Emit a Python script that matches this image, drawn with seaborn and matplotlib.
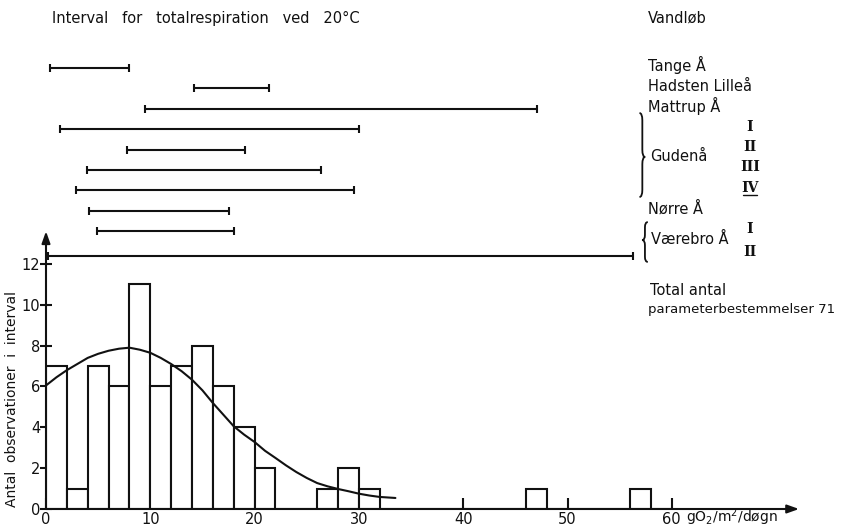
import numpy as np
import pandas as pd
import matplotlib
matplotlib.use("Agg")
import matplotlib.pyplot as plt
from matplotlib.path import Path
from matplotlib.patches import PathPatch
import seaborn as sns

# Histogram of total respiration (bin width 2 g O2/m2/day), left bin edges and counts
bin_left = [0, 2, 4, 6, 8, 10, 12, 14, 16, 18, 20, 26, 28, 30, 46, 56]
bin_count = [7, 1, 7, 6, 11, 6, 7, 8, 6, 4, 2, 1, 2, 1, 1, 1]
bin_width = 2

# Fitted distribution curve
curve_x = [0, 1, 2, 3, 4, 5, 6, 7, 8, 9, 10, 11, 12, 13, 14, 15, 16, 17, 18,
           19, 20, 21, 22, 23, 24, 25, 26, 27, 28, 29, 30, 31, 32, 33.5]
curve_y = [6.05, 6.45, 6.8, 7.1, 7.4, 7.6, 7.75, 7.85, 7.9, 7.8, 7.65, 7.4,
           7.1, 6.75, 6.33, 5.81, 5.19, 4.62, 4.05, 3.64, 3.28, 2.85, 2.5,
           2.14, 1.81, 1.52, 1.27, 1.11, 0.98, 0.87, 0.75, 0.66, 0.59, 0.54]

# Ranges of total respiration at 20 °C per stream / station
interval_low = [0.4, 14.2, 9.5, 1.3, 7.8, 3.9, 2.9, 4.1, 4.9, 0.2]
interval_high = [8.0, 21.4, 47.1, 30.0, 19.1, 26.4, 29.5, 17.5, 18.0, 56.3]

x_ticks = [0, 10, 20, 30, 40, 50, 60]
y_ticks = [0, 2, 4, 6, 8, 10, 12]

sns.set_style("white")
plt.rcParams["font.family"] = ["DejaVu Sans"]

W, H = 842, 527
fig = plt.figure(figsize=(W / 100, H / 100), dpi=100)
px_x, px_y = 10.43, 20.42  # pixels per data unit
ax = fig.add_axes([46 / W, 18 / H, (W - 46) / W, 509 / H])

ink = "#111111"
lw = 1.5

hist_df = pd.DataFrame({"x": np.array(bin_left, dtype=float) + bin_width / 2,
                        "n": np.array(bin_count, dtype=float)})
sns.histplot(data=hist_df, x="x", weights="n",
             binwidth=bin_width, binrange=(0, 60),
             color="white", edgecolor=ink, linewidth=lw, alpha=1,
             ax=ax, zorder=2)

sns.lineplot(x=curve_x, y=curve_y, color=ink, linewidth=lw, ax=ax,
             zorder=3, sort=False)

ax.set_xlim(0, (W - 46) / px_x)
ax.set_ylim(0, 509 / px_y)

# interval bars above the histogram
n_rows = len(interval_low)
row_y = [21.6 - i * 1.0 for i in range(n_rows - 1)] + [12.4]
for lo, hi, y in zip(interval_low, interval_high, row_y):
    ax.plot([lo, hi], [y, y], color=ink, linewidth=lw, clip_on=False,
            marker="|", markersize=6, markeredgewidth=lw, zorder=4)

for s in ax.spines.values():
    s.set_visible(False)

# axes drawn as arrows
arrow = dict(arrowstyle="-|>,head_length=0.7,head_width=0.25", color=ink,
             lw=lw, shrinkA=0, shrinkB=0)
ax.annotate("", xy=(72.2, 0), xytext=(0, 0), arrowprops=arrow,
            annotation_clip=False, zorder=5)
ax.annotate("", xy=(0, 13.6), xytext=(0, 0), arrowprops=arrow,
            annotation_clip=False, zorder=5)

ax.set_xticks(x_ticks)
ax.set_xticklabels([str(t) for t in x_ticks])
ax.set_yticks(y_ticks)
ax.set_yticklabels([str(t) for t in y_ticks])
ax.tick_params(axis="x", direction="in", length=8, width=lw, color=ink,
               labelsize=10.5, pad=2, labelcolor=ink, bottom=True)
ax.tick_params(axis="y", direction="inout", length=8, width=lw, color=ink,
               labelsize=10.5, pad=0, labelcolor=ink, left=True)
ax.set_xlabel("")
ax.set_ylabel("Antal  observationer  i  interval", fontsize=10, color=ink)
ax.yaxis.set_label_coords(-0.034, 0.216)

ax.annotate(r"gO$_2$/m$^2$/døgn", xy=(61.4, 0), xytext=(0, -9.5),
            textcoords="offset points", ha="left", va="baseline",
            fontsize=10, color=ink, annotation_clip=False)

ax.text(0.58, 24.04, "Interval   for   totalrespiration   ved   20°C",
        fontsize=10.5, color=ink, va="center", ha="left")

tkw = dict(fontsize=10.5, color=ink, va="center", ha="left")
ax.text(57.7, 24.04, "Vandløb", **tkw)
ax.text(57.7, 21.74, "Tange Å", **tkw)
ax.text(57.7, 20.67, "Hadsten Lilleå", **tkw)
ax.text(57.7, 19.74, "Mattrup Å", **tkw)
ax.text(57.9, 17.24, "Gudenå", **tkw)
ax.text(57.7, 14.69, "Nørre Å", **tkw)
ax.text(58.0, 13.22, "Værebro Å", **tkw)
ax.text(57.9, 10.72, "Total antal", **tkw)
ax.text(57.7, 9.75, "parameterbestemmelser 71", fontsize=9.5, color=ink,
        va="center", ha="left")

rkw = dict(fontsize=10, color=ink, va="center", ha="center",
           family=["DejaVu Serif"], fontweight="bold")
for lab, y in [("I", 18.71), ("II", 17.73), ("III", 16.75), ("I", 13.71),
               ("II", 12.59)]:
    ax.text(67.5, y, lab, **rkw)
ax.text(67.5, 15.72, "IV", **rkw)
ax.plot([66.8, 68.2], [15.4, 15.4], color=ink, lw=1.0, clip_on=False)


def brace(x0, w, y_top, y_bot, y_mid, d=0.35):
    xm = x0 + w / 2
    verts = [(x0, y_top), (xm, y_top), (xm, y_top - d),
             (xm, y_mid + d), (xm, y_mid), (x0 + w, y_mid),
             (xm, y_mid), (xm, y_mid - d),
             (xm, y_bot + d), (xm, y_bot), (x0, y_bot)]
    codes = [Path.MOVETO, Path.CURVE3, Path.CURVE3,
             Path.LINETO, Path.CURVE3, Path.CURVE3,
             Path.CURVE3, Path.CURVE3,
             Path.LINETO, Path.CURVE3, Path.CURVE3]
    ax.add_patch(PathPatch(Path(verts, codes), fill=False, edgecolor=ink,
                           lw=1.3, clip_on=False))


brace(56.9, 0.55, 19.39, 15.28, 17.24)
brace(57.7, -0.55, 14.05, 12.1, 13.17, d=0.25)

fig.savefig("out.png", dpi=100)
